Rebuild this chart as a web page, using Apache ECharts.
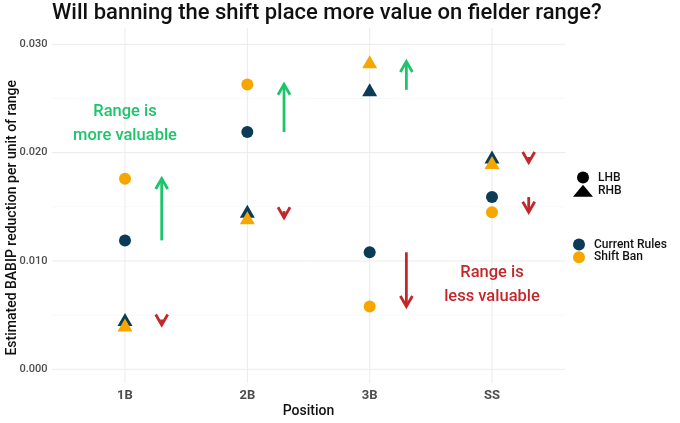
<!DOCTYPE html>
<html>
<head>
<meta charset="utf-8">
<script src="https://cdn.jsdelivr.net/npm/echarts@6/dist/echarts.min.js"></script>
<style>
  html, body { margin: 0; padding: 0; background: #fff; }
  #chart { width: 680px; height: 423px; }
</style>
</head>
<body>
<div id="chart"></div>
<script>
// 数据
const positions = ['1B', '2B', '3B', 'SS'];
const currentLHB = [0.0119, 0.0219, 0.0108, 0.0159];
const shiftLHB = [0.0176, 0.0263, 0.0058, 0.0145];
const currentRHB = [0.0046, 0.0146, 0.0258, 0.0196];
const shiftRHB = [0.0041, 0.0140, 0.0284, 0.0191];
const yTicks = [0, 0.01, 0.02, 0.03];
const yMinorTicks = [0.005, 0.015, 0.025];
const annotX = [0, 3];
const annotY = [0.0227, 0.00775];
const annotText = ['Range is\nmore valuable', 'Range is\nless valuable'];

const NAVY = '#0b3b56';
const ORANGE = '#f7a600';
const GREEN = '#1dc56a';
const RED = '#c3272b';
const FONT = 'Roboto';

// 面板范围 (ggplot 扩展)
const X_LO = -0.6, X_HI = 3.6;
const Y_LO = -0.00128, Y_HI = 0.0315;
const ARROW_DX = 0.3;

function points(vals, hand) {
  return vals.map((v, i) => [i, v, hand]);
}

// 网格线
const gridData = [];
yTicks.forEach(v => gridData.push([0, v, 0, 0]));
yMinorTicks.forEach(v => gridData.push([0, v, 0, 1]));
positions.forEach((p, i) => gridData.push([i, 0, 1, 0]));

// 箭头: 当前规则 -> 禁止移位
const arrowData = [];
positions.forEach((p, i) => {
  arrowData.push([i + ARROW_DX, currentLHB[i], shiftLHB[i]]);
  arrowData.push([i + ARROW_DX, currentRHB[i], shiftRHB[i]]);
});

const chart = echarts.init(document.getElementById('chart'), null, { renderer: 'canvas' });

const option = {
  animation: false,
  title: {
    text: 'Will banning the shift place more value on fielder range?',
    left: 47,
    top: -3,
    textStyle: { fontFamily: FONT, fontSize: 22, fontWeight: 500, color: '#111' }
  },
  grid: {
    left: 125, right: 188, top: 44.3, bottom: 53.7,
    containLabel: false,
    outerBoundsMode: 'none'
  },
  xAxis: {
    type: 'value',
    min: 0,
    max: 3,
    interval: 1,
    offset: 13.7,
    name: 'Position',
    nameLocation: 'middle',
    nameGap: 21,
    nameMoveOverlap: false,
    nameTextStyle: { fontFamily: FONT, fontSize: 14, fontWeight: 500, color: '#111' },
    axisLine: { show: false },
    axisTick: { show: false },
    splitLine: { show: false },
    axisLabel: {
      margin: 6,
      fontFamily: FONT,
      fontSize: 13,
      fontWeight: 'bold',
      color: '#4d4d4d',
      formatter: v => positions[v] || ''
    }
  },
  yAxis: {
    type: 'value',
    min: 0,
    max: 0.03,
    interval: 0.01,
    offset: 73.5,
    name: 'Estimated BABIP reduction per unit of range',
    nameLocation: 'middle',
    nameGap: 32.5,
    nameMoveOverlap: false,
    nameTextStyle: {
      fontFamily: FONT, fontSize: 14, fontWeight: 500, color: '#111',
      padding: [0, 22, 0, 0]
    },
    axisLine: { show: false },
    axisTick: { show: false },
    splitLine: { show: false },
    axisLabel: {
      margin: 4,
      fontFamily: FONT,
      fontSize: 11,
      fontWeight: 500,
      color: '#4d4d4d',
      formatter: v => v.toFixed(3)
    }
  },
  legend: [
    {
      data: [{ name: 'LHB', icon: 'circle' }, { name: 'RHB', icon: 'triangle' }],
      orient: 'vertical',
      left: 573,
      top: 171.5,
      padding: 0,
      itemWidth: 20,
      itemHeight: 12,
      itemGap: 1.3,
      selectedMode: false,
      textStyle: { fontFamily: FONT, fontSize: 12, fontWeight: 500, color: '#111' }
    },
    {
      data: [{ name: 'Current Rules', icon: 'circle' }, { name: 'Shift Ban', icon: 'circle' }],
      orient: 'vertical',
      left: 573,
      top: 238.5,
      padding: 0,
      itemWidth: 20,
      itemHeight: 12,
      itemGap: 0.7,
      selectedMode: false,
      textStyle: { fontFamily: FONT, fontSize: 12, fontWeight: 500, color: '#111' }
    }
  ],
  series: [
    {
      type: 'custom',
      name: 'grid',
      silent: true,
      z: 1,
      data: gridData,
      renderItem: (params, api) => {
        const orient = api.value(2);
        const minor = api.value(3);
        let a, b;
        if (orient === 0) {
          a = api.coord([X_LO, api.value(1)]);
          b = api.coord([X_HI, api.value(1)]);
        } else {
          a = api.coord([api.value(0), Y_LO]);
          b = api.coord([api.value(0), Y_HI]);
        }
        return {
          type: 'line',
          shape: { x1: a[0], y1: a[1], x2: b[0], y2: b[1] },
          style: { stroke: minor ? '#f3f3f3' : '#ebebeb', lineWidth: minor ? 0.6 : 1 }
        };
      }
    },
    {
      type: 'custom',
      name: 'arrows',
      silent: true,
      z: 2,
      data: arrowData,
      renderItem: (params, api) => {
        const x = api.value(0);
        const from = api.value(1);
        const to = api.value(2);
        const p0 = api.coord([x, from]);
        const p1 = api.coord([x, to]);
        const color = to > from ? GREEN : RED;
        const dir = p1[1] > p0[1] ? 1 : -1;
        const L = 12;
        const ang = Math.PI / 6;
        const hx = L * Math.sin(ang);
        const hy = L * Math.cos(ang) * dir;
        return {
          type: 'group',
          children: [
            {
              type: 'line',
              shape: { x1: p0[0], y1: p0[1], x2: p1[0], y2: p1[1] },
              style: { stroke: color, lineWidth: 2.8 }
            },
            {
              type: 'polyline',
              shape: { points: [[p1[0] - hx, p1[1] - hy], [p1[0], p1[1]], [p1[0] + hx, p1[1] - hy]] },
              style: { stroke: color, lineWidth: 2.8, fill: null, lineJoin: 'miter' }
            }
          ]
        };
      }
    },
    {
      type: 'custom',
      name: 'notes',
      silent: true,
      z: 2,
      data: annotX.map((x, i) => [x, annotY[i]]),
      renderItem: (params, api) => {
        const p = api.coord([api.value(0), api.value(1)]);
        const i = params.dataIndex;
        return {
          type: 'text',
          x: p[0],
          y: p[1],
          style: {
            text: annotText[i],
            fill: i === 0 ? GREEN : RED,
            font: '500 16.5px ' + FONT,
            align: 'center',
            verticalAlign: 'middle',
            lineHeight: 24
          }
        };
      }
    },
    { type: 'scatter', name: 'LHB', data: [], itemStyle: { color: '#000', opacity: 1 }, symbol: 'circle' },
    { type: 'scatter', name: 'RHB', data: [], itemStyle: { color: '#000', opacity: 1 }, symbol: 'triangle' },
    {
      type: 'scatter',
      name: 'Current Rules',
      z: 4,
      clip: false,
      itemStyle: { color: NAVY, opacity: 1 },
      data: points(currentLHB, 0).concat(points(currentRHB, 1)),
      symbol: v => (v[2] === 1 ? 'triangle' : 'circle'),
      symbolSize: v => (v[2] === 1 ? [15, 13] : 12)
    },
    {
      type: 'scatter',
      name: 'Shift Ban',
      z: 5,
      clip: false,
      itemStyle: { color: ORANGE, opacity: 1 },
      data: points(shiftLHB, 0).concat(points(shiftRHB, 1)),
      symbol: v => (v[2] === 1 ? 'triangle' : 'circle'),
      symbolSize: v => (v[2] === 1 ? [15, 13] : 12)
    }
  ]
};

chart.setOption(option);
</script>
</body>
</html>
